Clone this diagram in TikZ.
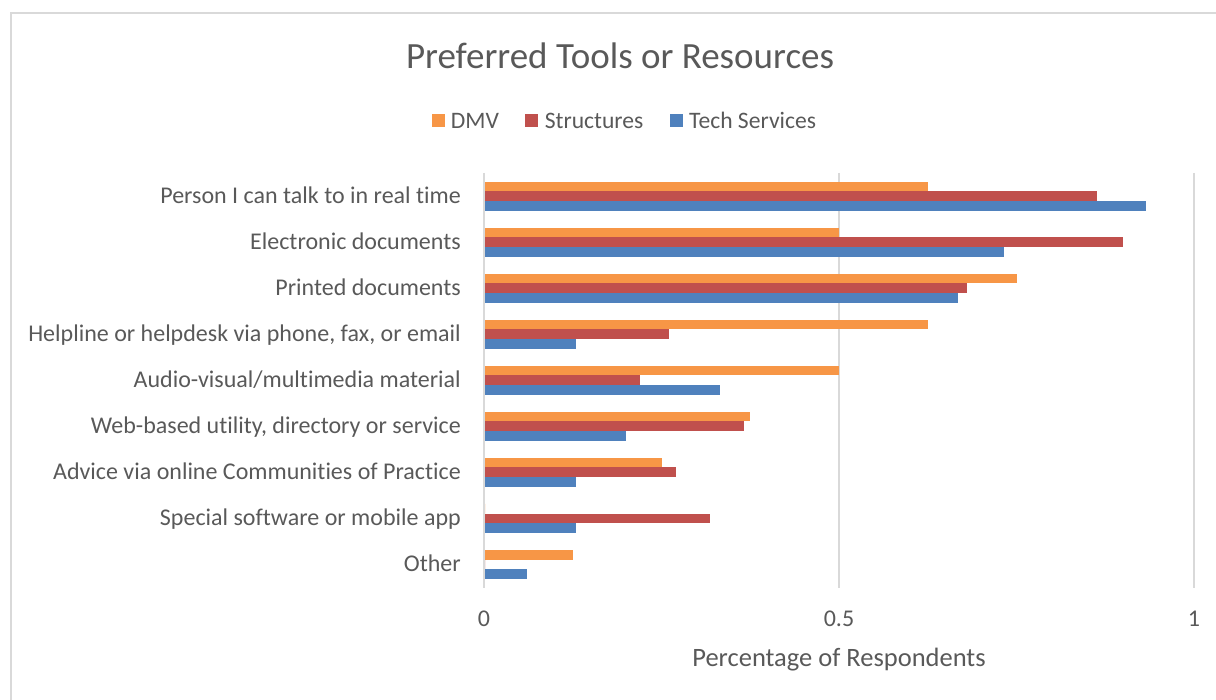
\documentclass[tikz,border=0pt]{standalone}
\usepackage{fontspec}
\setmainfont{Carlito}[Ligatures=NoCommon]
\usepackage{tikz}
\usetikzlibrary{positioning}
\definecolor{dmvorange}{HTML}{F79646}
\definecolor{strred}{HTML}{C0504D}
\definecolor{techblue}{HTML}{4F81BD}
\definecolor{inkgray}{HTML}{595959}
\definecolor{gridgray}{HTML}{D9D9D9}
\tikzset{
x=1pt, y=-1pt, % one unit is one pixel of the chart, y runs downwards
every node/.style={text=inkgray, inner sep=0pt}, % all texts in dark gray
charttitle/.style={anchor=base, font=\fontsize{37}{40}\selectfont},
legendkey/.style={minimum size=13pt}, % small coloured square of the legend
legendtext/.style={font=\fontsize{23.6}{26}\selectfont},
catlabel/.style={anchor=base east, font=\fontsize{24}{28}\selectfont},
ticklabel/.style={anchor=base, font=\fontsize{24}{28}\selectfont},
axistitle/.style={anchor=base, font=\fontsize{26.5}{30}\selectfont},
gridline/.style={gridgray, line width=1.6pt},
chartframe/.style={gridgray, line width=1.4pt},
}
\begin{document}
\begin{tikzpicture}
        \useasboundingbox (0,0) rectangle (1216,700);
        \draw[chartframe] (11,720) -- (11,13) -- (1240,13);

        \node[charttitle] (title) at (620,69) {Preferred Tools or Resources};

        \node[legendkey, fill=dmvorange] (dmvkey) at (438,120.8) {};
        \node[legendtext, right=6pt of dmvkey] (dmvtext) {DMV};
        \node[legendkey, fill=strred, right=26pt of dmvtext] (strkey) {};
        \node[legendtext, right=6pt of strkey] (strtext) {Structures};
        \node[legendkey, fill=techblue, right=26pt of strtext] (techkey) {};
        \node[legendtext, right=6pt of techkey] (techtext) {Tech Services};

        \draw[gridline] (484,173) -- (484,588);
        \draw[gridline] (839,173) -- (839,588);
        \draw[gridline] (1194,173) -- (1194,588);

        \foreach \d/\s/\t [count=\j from 0] in {0.625/0.863/0.933, 0.5/0.9/0.733,
            0.75/0.68/0.667, 0.625/0.26/0.13, 0.5/0.22/0.333, 0.375/0.366/0.2,
            0.25/0.27/0.13, 0/0.318/0.13, 0.125/0/0.06}{
          \pgfmathsetmacro{\c}{196.3+46*\j}
          \fill[dmvorange] (485,\c-14.5) rectangle ({max(485,484+710*\d)},\c-4.8);
          \fill[strred] (485,\c-4.8) rectangle ({max(485,484+710*\s)},\c+4.8);
          \fill[techblue] (485,\c+4.8) rectangle ({max(485,484+710*\t)},\c+14.5);
        }

        \node[catlabel] (person) at (461,203.3) {Person I can talk to in real time};
        \node[catlabel] (electronic) at (461,249.3) {Electronic documents};
        \node[catlabel] (printed) at (461,295.3) {Printed documents};
        \node[catlabel] (helpline) at (461,341.3) {Helpline or helpdesk via phone, fax, or email};
        \node[catlabel] (audio) at (461,387.3) {Audio-visual/multimedia material};
        \node[catlabel] (web) at (461,433.3) {Web-based utility, directory or service};
        \node[catlabel] (advice) at (461,479.3) {Advice via online Communities of Practice};
        \node[catlabel] (special) at (461,525.3) {Special software or mobile app};
        \node[catlabel] (other) at (461,571.3) {Other};

        \node[ticklabel] (tickzero) at (484,626.7) {0};
        \node[ticklabel] (tickhalf) at (839,626.7) {0.5};
        \node[ticklabel] (tickone) at (1194,626.7) {1};
        \node[axistitle] (xtitle) at (839,666) {Percentage of Respondents};
\end{tikzpicture}
\end{document}
